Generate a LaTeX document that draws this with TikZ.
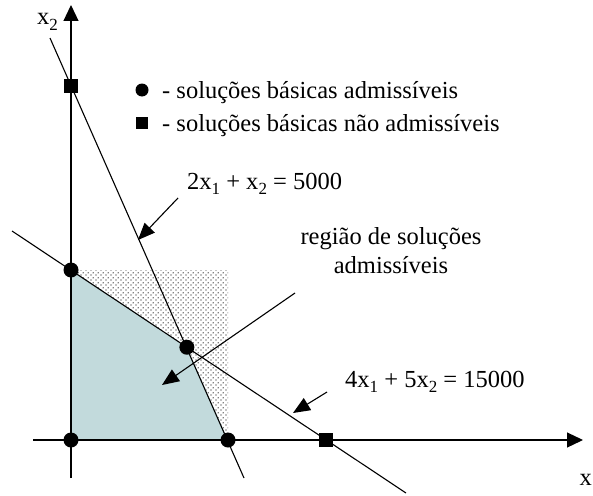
\documentclass[tikz,border=0pt]{standalone}
\usepackage{fontspec}
\setmainfont{Liberation Serif}
\usetikzlibrary{arrows.meta,patterns.meta,calc}
\definecolor{regionfill}{RGB}{194,218,220}
\newcommand{\lowidx}[1]{\raisebox{-0.24em}{\fontsize{17}{17}\selectfont #1}}
\tikzdeclarepattern{
  name=stipple, type=uncolored,
  bounding box={(0pt,0pt) and (5pt,5pt)},
  tile size={(5pt,5pt)},
  code={
    \fill (1.25pt,1.25pt) circle (0.75pt);
    \fill (3.75pt,3.75pt) circle (0.75pt);
  }
}
\begin{document}
\begin{tikzpicture}[x=1pt,y=-1pt,
  font=\fontsize{24.5}{29}\selectfont,
  axis/.style={line width=1.2pt,-{Triangle[length=16pt,width=15pt]}},
  curve/.style={line width=1.1pt},
  pointer/.style={line width=1.1pt,-{Triangle[length=17pt,width=14pt]}},
  adm/.style={circle,fill=black,inner sep=0pt,minimum size=15pt},
  nadm/.style={rectangle,fill=black,inner sep=0pt,minimum size=14pt},
  lbl/.style={inner sep=0pt}]
\useasboundingbox (0,0) rectangle (593,495);

\coordinate (O) at (71,440);
\coordinate (A) at (71,270);
\coordinate (C) at (228,440);
\coordinate (S1) at (71,86);
\coordinate (S2) at (326,440);
\coordinate (B) at (intersection of S1--C and A--S2);

% stippled rectangle and feasible region
\fill[pattern=stipple, pattern color=black] (A) rectangle (C);
\fill[regionfill] (O) -- (A) -- (B) -- (C) -- cycle;

% axes
\coordinate (xs) at (33,440);
\coordinate (xe) at (583,440);
\coordinate (ys) at (71,478);
\coordinate (ye) at (71,5);
\draw[axis] (xs) -- (xe);
\draw[axis] (ys) -- (ye);

% constraint lines
\coordinate (L1a) at (50,38);
\coordinate (L1b) at (244,478);
\coordinate (L2a) at (12,231);
\coordinate (L2b) at (406,493);
\draw[curve] (L1a) -- (L1b);
\draw[curve] (L2a) -- (L2b);

% basic solutions
\node[adm] (pO) at (O) {};
\node[adm] (pA) at (A) {};
\node[adm] (pB) at (B) {};
\node[adm] (pC) at (C) {};
\node[nadm] (pS1) at (S1) {};
\node[nadm] (pS2) at (S2) {};

% axis labels
\node[lbl,anchor=base west] (x2) at (37,25) {x\lowidx{2}};
\node[lbl,anchor=base east] (x1) at (592,485) {x};

% legend
\node[adm,minimum size=13pt] (lc) at (142,90) {};
\node[nadm,minimum size=12pt] (ls) at (142,123) {};
\node[lbl,anchor=base west] (lt1) at (162,98) {- soluções básicas admissíveis};
\node[lbl,anchor=base west] (lt2) at (162,131) {- soluções básicas não admissíveis};

% equation labels
\node[lbl,anchor=base west] (eq1) at (187,189) {2x\lowidx{1} + x\lowidx{2} = 5000};
\coordinate (e1s) at (178,198);
\coordinate (e1t) at (138,240);
\draw[pointer] (e1s) -- (e1t);

\node[lbl,align=center,anchor=base] (reg) at (391,273) {região de soluções\\admissíveis};
\coordinate (rs) at (295,293);
\coordinate (rt) at (162,385);
\draw[pointer] (rs) -- (rt);

\node[lbl,anchor=base west] (eq2) at (345,387) {4x\lowidx{1} + 5x\lowidx{2} = 15000};
\coordinate (e2s) at (327,392);
\coordinate (e2t) at (293,413);
\draw[pointer] (e2s) -- (e2t);
\end{tikzpicture}
\end{document}
